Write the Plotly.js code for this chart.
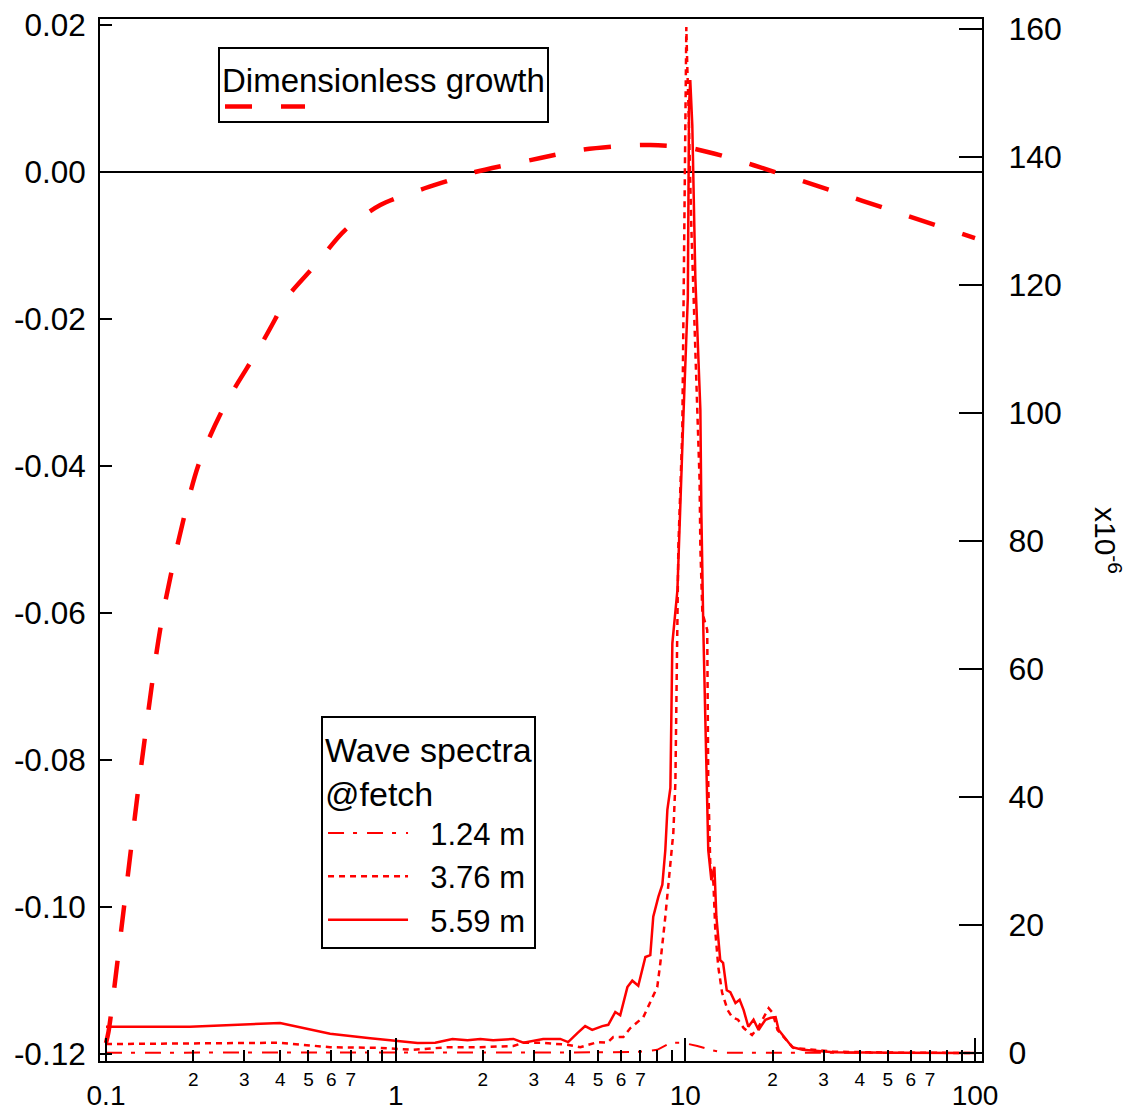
<!DOCTYPE html>
<html>
<head>
<meta charset="utf-8">
<script src="https://cdn.plot.ly/plotly-3.0.1.min.js"></script>
<style>html,body{margin:0;padding:0;background:#fff;}</style>
</head>
<body>
<div id="chart" style="width:1146px;height:1114px;"></div>
<script>
// Dimensionless growth (left axis)
var growthX = [0.1, 0.102, 0.1154, 0.1331, 0.1574, 0.2079, 0.2575, 0.335, 0.384, 0.415, 0.527, 0.669, 0.885, 1.21, 1.54, 1.88, 3.16, 4.34, 5.97, 7.58, 10.4, 14.3, 20.4, 31.6, 51.2, 100];
var growthY = [-0.1185, -0.1170, -0.1000, -0.0800, -0.0600, -0.0400, -0.0317, -0.0242, -0.0200, -0.0174, -0.0127, -0.0079, -0.0045, -0.00245, -0.0011, 0.0, 0.0019, 0.0030, 0.00354, 0.00367, 0.00327, 0.0019, 0.0, -0.00245, -0.0052, -0.0090];

// Wave spectra (right axis, x10^-6)
var fetch124X = [0.1, 1, 5, 7, 8.0, 8.9, 9.8, 11.0, 12.2, 13.5, 20, 100];
var fetch124Y = [0.05, 0.05, 0.1, 0.2, 0.5, 1.6, 1.6, 1.1, 0.5, 0.05, 0.05, 0.0];

var fetch376X = [0.1, 0.399, 0.594, 0.884, 1.15, 1.51, 1.96, 2.55, 2.76, 3.16, 3.91, 4.34, 4.97, 5.38, 5.64, 6.11, 6.46, 7.16, 8.00, 8.20, 8.53, 8.74, 9.09, 9.24, 9.39, 9.46, 9.76, 9.84, 10.0, 10.08, 10.16, 10.24, 10.49, 10.74, 11.0, 11.2, 11.27, 11.45, 11.9, 12.0, 12.2, 12.5, 12.7, 13.0, 13.4, 14.0, 14.5, 15.2, 15.9, 17.0, 17.9, 18.6, 19.4, 20.0, 20.8, 23.6, 32.5, 55, 100];
var fetch376Y = [1.4, 1.6, 0.9, 0.8, 0.5, 0.9, 0.9, 1.1, 1.6, 1.6, 1.3, 0.9, 1.7, 1.6, 2.5, 2.5, 3.9, 5.6, 10.3, 14.1, 21.3, 26.6, 34.4, 42.2, 63, 79, 97, 116, 144, 160.3, 154, 149, 129, 114.5, 99, 89.5, 79, 68.8, 66.1, 42.2, 29.1, 26.6, 18.8, 13.4, 9.4, 6.7, 5.6, 5.2, 3.9, 2.8, 4.1, 5.6, 7.0, 6.3, 3.6, 0.8, 0.2, 0.05, 0.0];

var fetch559X = [0.1, 0.195, 0.399, 0.594, 0.817, 1.01, 1.19, 1.37, 1.57, 1.77, 1.96, 2.17, 2.55, 2.76, 2.99, 3.23, 3.70, 3.94, 4.24, 4.51, 4.77, 5.17, 5.42, 5.73, 5.96, 6.31, 6.56, 6.88, 7.28, 7.57, 7.75, 8.07, 8.33, 8.53, 8.67, 8.88, 9.02, 9.39, 9.84, 10.2, 10.3, 10.4, 10.57, 10.83, 11.27, 11.36, 11.54, 11.82, 12.0, 12.3, 12.6, 12.8, 13.2, 13.5, 13.9, 14.3, 14.9, 15.4, 15.9, 16.5, 17.2, 17.9, 18.9, 19.7, 20.5, 21.0, 22.2, 23.4, 25.4, 32.5, 55, 100];
var fetch559Y = [4.1, 4.1, 4.7, 3.0, 2.3, 1.9, 1.55, 1.6, 2.2, 2.0, 2.2, 2.0, 2.2, 1.6, 1.9, 2.2, 2.2, 1.7, 3.1, 4.2, 3.6, 4.2, 4.4, 6.4, 5.9, 10.3, 11.3, 10.5, 15.0, 15.3, 21.3, 24.4, 26.3, 31.7, 38.0, 41.4, 64.0, 72.3, 99, 118, 148, 152, 145, 121, 100.5, 84.4, 66.1, 47.3, 31.7, 27.0, 29.1, 21.3, 14.5, 14.1, 9.8, 9.5, 7.8, 8.3, 6.7, 4.1, 5.2, 3.6, 5.2, 5.5, 5.6, 3.6, 2.3, 0.9, 0.5, 0.1, 0.05, 0.0];

// Tick labels
var xMinorVals = [0.2,0.3,0.4,0.5,0.6,0.7,0.8,0.9, 2,3,4,5,6,7,8,9, 20,30,40,50,60,70,80,90];
var xMinorText = ['2','3','4','5','6','7','','', '2','3','4','5','6','7','','', '2','3','4','5','6','7','',''];
var xMajorVals = [0.1, 1, 10, 100];
var xMajorText = ['0.1', '1', '10', '100'];
var yLeftVals = [-0.12, -0.10, -0.08, -0.06, -0.04, -0.02, 0.00, 0.02];
var yLeftText = ['-0.12', '-0.10', '-0.08', '-0.06', '-0.04', '-0.02', '0.00', '0.02'];
var yRightVals = [0, 20, 40, 60, 80, 100, 120, 140, 160];
var yRightText = ['0', '20', '40', '60', '80', '100', '120', '140', '160'];

var RED = '#ff0000';
var GAP = '\u00a0\u00a0';
var traces = [
  {x: growthX, y: growthY, xaxis: 'x', yaxis: 'y', mode: 'lines', name: ' ', legend: 'legend',
   line: {color: RED, width: 4.5, dash: '27px,29px', shape: 'spline', smoothing: 0.8}},
  {x: fetch124X, y: fetch124Y, xaxis: 'x', yaxis: 'y2', mode: 'lines', name: GAP + '1.24 m', legend: 'legend2',
   line: {color: RED, width: 2, dash: '16px,9px,4px,10px'}},
  {x: fetch376X, y: fetch376Y, xaxis: 'x', yaxis: 'y2', mode: 'lines', name: GAP + '3.76 m', legend: 'legend2',
   line: {color: RED, width: 2.5, dash: '6px,5px'}},
  {x: fetch559X, y: fetch559Y, xaxis: 'x', yaxis: 'y2', mode: 'lines', name: GAP + '5.59 m', legend: 'legend2',
   line: {color: RED, width: 2.5}},
  // empty carrier so the decade-label axis (x2) is drawn
  {x: [], y: [], xaxis: 'x2', yaxis: 'y', mode: 'lines', showlegend: false, hoverinfo: 'skip'}
];

var FONT = 'Liberation Sans, Arial, Helvetica, sans-serif';
var xr = [-1.0207, 2.0242];
var layout = {
  width: 1146, height: 1114,
  margin: {l: 100, r: 164, t: 19, b: 53, pad: 0},
  paper_bgcolor: '#ffffff', plot_bgcolor: '#ffffff',
  font: {family: FONT, color: '#000000', size: 24},
  showlegend: true,
  xaxis: {type: 'log', range: xr, anchor: 'y', tickmode: 'array', tickvals: xMinorVals, ticktext: xMinorText,
    ticks: 'inside', ticklen: 11, tickwidth: 2, tickcolor: '#000', tickfont: {size: 19},
    showline: true, linecolor: '#000', linewidth: 2, mirror: true, showgrid: false, zeroline: false},
  xaxis2: {type: 'log', range: xr, anchor: 'y', overlaying: 'x', side: 'bottom', tickmode: 'array',
    tickvals: xMajorVals, ticktext: xMajorText, ticks: 'inside', ticklen: 23, tickwidth: 2, tickcolor: '#000',
    tickfont: {size: 28}, ticklabelstandoff: 15, showline: false, showgrid: false, zeroline: false},
  yaxis: {range: [-0.12095, 0.02082], anchor: 'x', tickmode: 'array', tickvals: yLeftVals, ticktext: yLeftText,
    ticks: 'inside', ticklen: 12, tickwidth: 2, tickcolor: '#000', tickfont: {size: 31.5},
    showline: true, linecolor: '#000', linewidth: 2, showgrid: false,
    zeroline: true, zerolinecolor: '#000', zerolinewidth: 2, ticklabelstandoff: 6},
  yaxis2: {range: [-1.25, 161.56], anchor: 'x', overlaying: 'y', side: 'right', tickmode: 'array',
    tickvals: yRightVals, ticktext: yRightText, ticks: 'inside', ticklen: 23, tickwidth: 2, tickcolor: '#000',
    tickfont: {size: 32}, showline: true, linecolor: '#000', linewidth: 2, showgrid: false, zeroline: false,
    ticklabelstandoff: 18},
  legend: {x: 0.1338, y: 0.9731, xanchor: 'left', yanchor: 'top', bgcolor: '#fff', bordercolor: '#000', borderwidth: 2,
    font: {size: 8}, itemwidth: 80, title: {text: 'Dimensionless growth', font: {size: 33}, side: 'top'}},
  legend2: {x: 0.2506, y: 0.3311, xanchor: 'left', yanchor: 'top', bgcolor: '#fff', bordercolor: '#000', borderwidth: 2,
    font: {size: 31}, itemwidth: 80, title: {text: 'Wave spectra<br>@fetch', font: {size: 34}, side: 'top'}, traceorder: 'normal'},
  annotations: [{xref: 'paper', yref: 'paper', x: 1.1429, y: 0.5, text: 'x10<sup>-6</sup>', showarrow: false,
    textangle: 90, font: {size: 30}, xanchor: 'center', yanchor: 'middle'}]
};

Plotly.newPlot('chart', traces, layout, {displayModeBar: false, staticPlot: true});
</script>
</body>
</html>
